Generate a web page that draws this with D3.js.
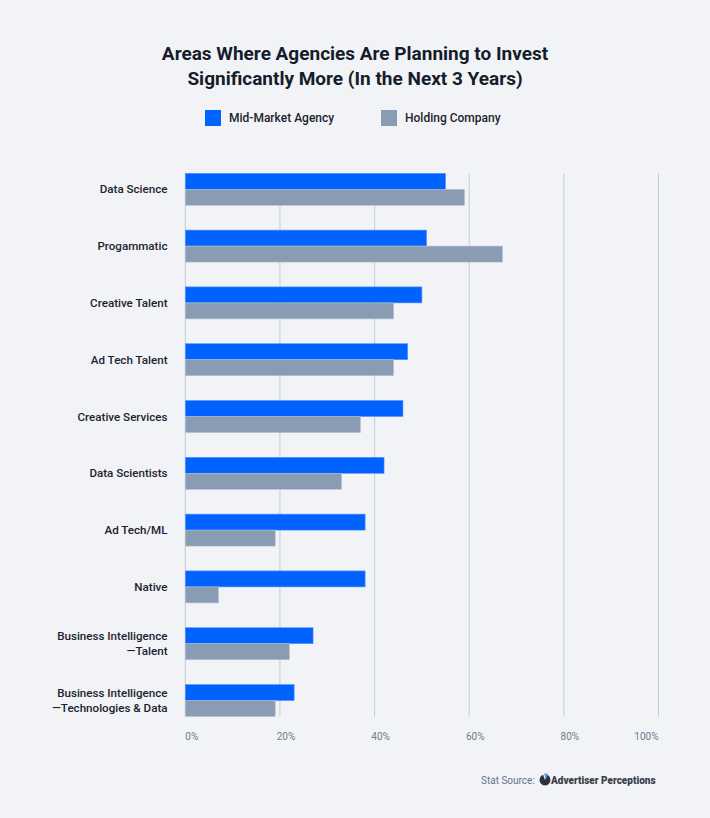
<!DOCTYPE html>
<html>
<head>
<meta charset="utf-8">
<script src="https://cdn.jsdelivr.net/npm/d3@7"></script>
<style>
  html, body { margin: 0; padding: 0; background: #f1f3f7; }
  svg { display: block; }
</style>
</head>
<body>
<div id="chart"></div>
<script>
const categories = [
  ['Data Science'],
  ['Progammatic'],
  ['Creative Talent'],
  ['Ad Tech Talent'],
  ['Creative Services'],
  ['Data Scientists'],
  ['Ad Tech/ML'],
  ['Native'],
  ['Business Intelligence', '\u2014Talent'],
  ['Business Intelligence', '\u2014Technologies & Data']
];
const seriesNames = ['Mid-Market Agency', 'Holding Company'];
const midMarket = [55, 51, 50, 47, 46, 42, 38, 38, 27, 23];
const holding   = [59, 67, 44, 44, 37, 33, 19, 7, 22, 19];
const ticks = [0, 20, 40, 60, 80, 100];
const colors = ['#0062ff', '#8a9bb4'];

(function(){
  const width = 710, height = 818;
  const font = 'Roboto, "Noto Sans", sans-serif';
  const svg = d3.select('#chart').append('svg').attr('width', width).attr('height', height);
  svg.append('rect').attr('width', width).attr('height', height).attr('fill', '#f1f3f7');

  // title
  const title = svg.append('text').attr('text-anchor', 'middle').attr('fill', '#161c2a')
    .style('font-family', font).style('font-weight', 700).style('font-size', '19px');
  title.append('tspan').attr('x', 355).attr('y', 60).text('Areas Where Agencies Are Planning to Invest');
  title.append('tspan').attr('x', 355).attr('y', 85).text('Significantly More (In the Next 3 Years)');

  // legend
  const legendX = [205, 381];
  const legend = svg.selectAll('g.legend').data(seriesNames).join('g').attr('class', 'legend')
    .attr('transform', (d, i) => `translate(${legendX[i]},110)`);
  legend.append('rect').attr('width', 16).attr('height', 16).attr('fill', (d, i) => colors[i]);
  legend.append('text').attr('x', 24).attr('y', 8).attr('dy', '0.35em').attr('fill', '#1d2230')
    .style('font-family', font).style('font-weight', 500).style('font-size', '12px').text(d => d);

  const x = d3.scaleLinear().domain([0, 100]).range([185.3, 658.5]);
  const y = d3.scaleBand().domain(d3.range(categories.length)).range([173.3, 716.5]).paddingInner(0.437);
  const ySub = d3.scaleBand().domain([0, 1]).range([0, y.bandwidth()]);

  const gridTop = y(0), gridBottom = y(categories.length - 1) + y.bandwidth();

  // gridlines
  svg.append('g').selectAll('line').data(ticks).join('line')
    .attr('x1', d => x(d)).attr('x2', d => x(d))
    .attr('y1', gridTop).attr('y2', gridBottom)
    .attr('stroke', '#c3cbd9').attr('stroke-width', 1);

  // tick labels (first and last pinned to the edges)
  svg.append('g').selectAll('text').data(ticks).join('text')
    .attr('x', d => x(d))
    .attr('y', 736).attr('dy', '0.35em')
    .attr('text-anchor', (d, i) => i === 0 ? 'start' : (i === ticks.length - 1 ? 'end' : 'middle'))
    .attr('dx', (d, i) => i === 0 || i === ticks.length - 1 ? 0 : 6)
    .attr('fill', '#6f7b8f')
    .style('font-family', font).style('font-size', '10px')
    .text(d => d + '%');

  // bars
  const groups = svg.append('g').selectAll('g').data(categories).join('g')
    .attr('transform', (d, i) => `translate(0,${y(i)})`);
  groups.selectAll('rect').data((d, i) => [midMarket[i], holding[i]]).join('rect')
    .attr('x', x(0))
    .attr('y', (d, j) => ySub(j))
    .attr('width', d => x(d) - x(0))
    .attr('height', ySub.bandwidth())
    .attr('fill', (d, j) => colors[j])
    .attr('stroke', (d, j) => j === 0 ? '#5c93f5' : '#b3bfd0')
    .attr('stroke-width', 0.6);

  // category labels
  const labels = svg.append('g').selectAll('text').data(categories).join('text')
    .attr('text-anchor', 'end').attr('fill', '#1d2230')
    .style('font-family', font).style('font-weight', 500).style('font-size', '11.6px')
    .attr('transform', (d, i) => `translate(167.5,${y(i) + y.bandwidth() / 2})`);
  labels.selectAll('tspan').data(d => d).join('tspan')
    .attr('x', 0)
    .attr('y', (d, j, nodes) => (j - (nodes.length - 1) / 2) * 15)
    .attr('dy', '0.35em')
    .text(d => d);

  // source
  const src = svg.append('g').attr('transform', 'translate(481,780)');
  src.append('text').attr('dy', '0.35em').attr('fill', '#66738a')
    .style('font-family', font).style('font-size', '10px').text('Stat Source:');
  const logo = src.append('g').attr('transform', 'translate(64,0)');
  const arc = d3.arc().innerRadius(0).outerRadius(5.5);
  logo.append('path').attr('d', arc({startAngle: 0.35, endAngle: Math.PI * 2 - 0.35})).attr('fill', '#2c3340');
  logo.append('path').attr('d', arc({startAngle: -0.35, endAngle: 0.35})).attr('fill', '#5c93f5').attr('transform', 'translate(1,-1)');
  src.append('text').attr('x', 70).attr('dy', '0.35em').attr('fill', '#3a3f4a')
    .style('font-family', font).style('font-weight', 900).style('font-size', '10px')
    .text('Advertiser Perceptions');
})();
</script>
</body>
</html>
